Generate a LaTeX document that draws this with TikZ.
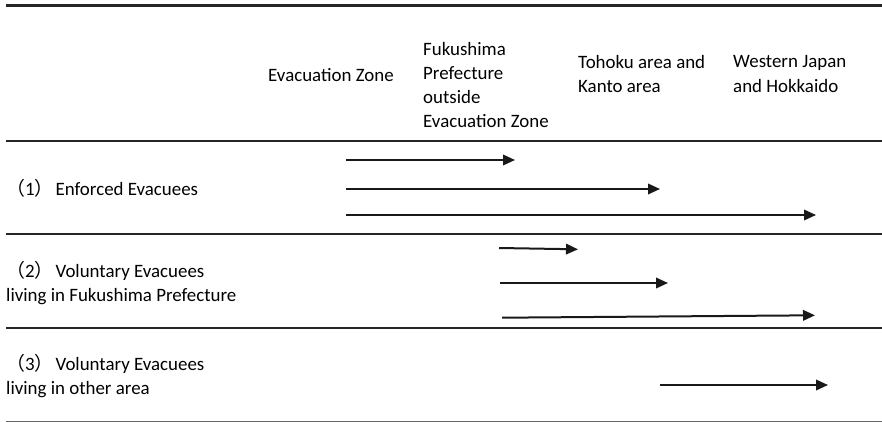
\documentclass[tikz,border=0pt]{standalone}
\usepackage{fontspec}
\setmainfont{Carlito}
\newfontfamily\cjk{Noto Sans CJK JP}
\usetikzlibrary{arrows.meta, positioning}

\begin{document}
\begin{tikzpicture}[x=1pt, y=-1pt,
	>={Triangle[length=12pt,width=10.5pt]},
	txt/.style={anchor=west, align=left, inner sep=0pt,
		font=\fontsize{18.9}{24.3}\selectfont},
	rule/.style={line width=2pt, black!85},
	move/.style={->, line width=2pt, black!90}]
	\useasboundingbox (0,0) rectangle (882,422);

	% header
	\node[txt] (evz) at (268,75) {Evacuation Zone};
	\node[txt] (fko) at (423,85) {Fukushima\\Prefecture\\outside\\Evacuation Zone};
	\node[txt] (tk) at (578,74) {Tohoku area and\\Kanto area};
	\node[txt] (wj) at (733,74) {Western Japan\\and Hokkaido};

	% rows
	\node[txt] (enf) at (6,188) {{\cjk （}1{\cjk ）}\hspace{2pt}Enforced Evacuees};
	\node[txt] (volfk) at (6,283) {{\cjk （}2{\cjk ）}\hspace{2pt}Voluntary Evacuees\\living in Fukushima Prefecture};
	\node[txt] (voloth) at (6,376) {{\cjk （}3{\cjk ）}\hspace{2pt}Voluntary Evacuees\\living in other area};

	% rules
	\draw[rule, line width=2.2pt] (6,5.5) -- (882,5.5);
	\draw[rule] (6,141) -- (882,141);
	\draw[rule] (6,234.3) -- (882,234.3);
	\draw[rule] (6,328.3) -- (882,328.3);
	\draw[line width=1.1pt, black!60] (6,421.3) -- (882,421.3);

	% arrow ends
	\coordinate (r1s1) at (346,160);
	\coordinate (r1e1) at (515,160);
	\coordinate (r1s2) at (346,189);
	\coordinate (r1e2) at (660,189);
	\coordinate (r1s3) at (346,215);
	\coordinate (r1e3) at (816,215);
	\coordinate (r2s1) at (499,248);
	\coordinate (r2e1) at (578,249.3);
	\coordinate (r2s2) at (500,283);
	\coordinate (r2e2) at (668,283);
	\coordinate (r2s3) at (502,317.7);
	\coordinate (r2e3) at (815,315.3);
	\coordinate (r3s1) at (660,385);
	\coordinate (r3e1) at (828,385);

	\draw[move] (r1s1) -- (r1e1);
	\draw[move] (r1s2) -- (r1e2);
	\draw[move] (r1s3) -- (r1e3);
	\draw[move] (r2s1) -- (r2e1);
	\draw[move] (r2s2) -- (r2e2);
	\draw[move] (r2s3) -- (r2e3);
	\draw[move] (r3s1) -- (r3e1);
\end{tikzpicture}
\end{document}
